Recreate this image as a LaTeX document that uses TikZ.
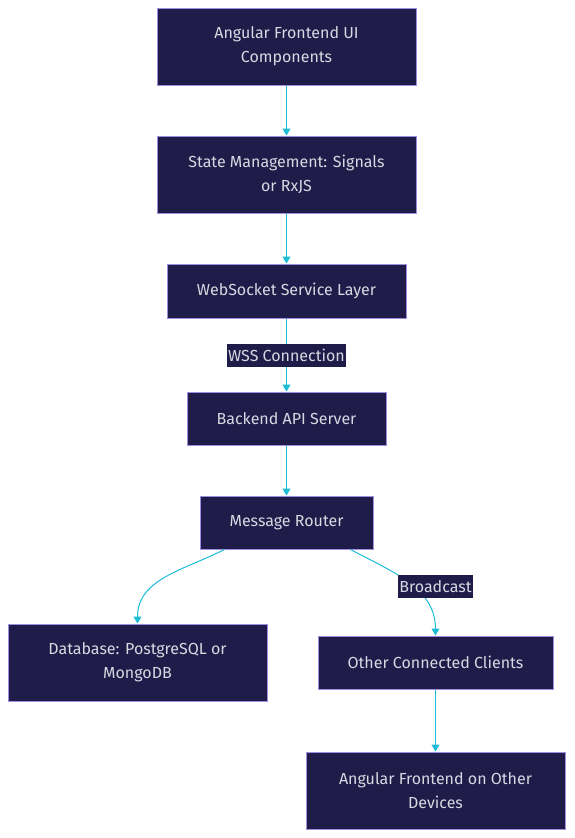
\documentclass[tikz,border=0pt]{standalone}
\usepackage{fontspec}
\setmainfont{Fira Sans}
\usetikzlibrary{arrows.meta,positioning}

\definecolor{boxfill}{HTML}{1F1C4A}
\definecolor{boxline}{HTML}{A08CE0}
\definecolor{boxtext}{HTML}{D8D8E2}
\definecolor{wire}{HTML}{1CBCD8}

\begin{document}
\begin{tikzpicture}[x=1pt,y=1pt,
    box/.style={draw=boxline, fill=boxfill, text=boxtext, line width=1pt,
        align=center, inner sep=0pt, font=\fontsize{16}{24}\selectfont},
    link/.style={draw=wire, line width=1pt, -{Triangle[width=8pt,length=7pt]}},
    lbl/.style={fill=boxfill, text=boxtext, inner sep=1.5pt,
        minimum height=23pt, font=\fontsize{16}{24}\selectfont}]
    \useasboundingbox (0,0) rectangle (574,-838);

    \node (ui) [box, minimum width=259pt, minimum height=77pt] at (286.5,-46.5) {Angular Frontend UI\\Components};

    \node (state) [box, minimum width=259pt, minimum height=77pt, below=50pt of ui] {State Management: Signals\\or RxJS};

    \node (socket) [box, minimum width=239pt, minimum height=54pt, below=50pt of state] {WebSocket Service Layer};

    \node (backend) [box, minimum width=199pt, minimum height=53pt, below=73pt of socket] {Backend API Server};

    \node (router) [box, minimum width=173pt, minimum height=53pt, below=50pt of backend] {Message Router};

    \node (db) [box, minimum width=259pt, minimum height=77pt] at (137.5,-662.5) {Database: PostgreSQL or\\MongoDB};

    \node (clients) [box, minimum width=235pt, minimum height=53pt] at (435.5,-662.5) {Other Connected Clients};

    \node (devices) [box, minimum width=259pt, minimum height=77pt, below=62pt of clients] {Angular Frontend on Other\\Devices};

    \draw [link] (ui) -- (state);
    \draw [link] (state) -- (socket);
    \draw [link] (socket) -- node[lbl] {WSS Connection} (backend);
    \draw [link] (backend) -- (router);
    \draw [link] ([xshift=-62pt]router.south) to[out=-153,in=90] (db.north);
    \draw [link] ([xshift=64pt]router.south) to[out=-28,in=90] (clients.north);
    \node (bcast) [lbl] at (435.5,-586.5) {Broadcast};
    \draw [link] (clients) -- (devices);
\end{tikzpicture}
\end{document}
